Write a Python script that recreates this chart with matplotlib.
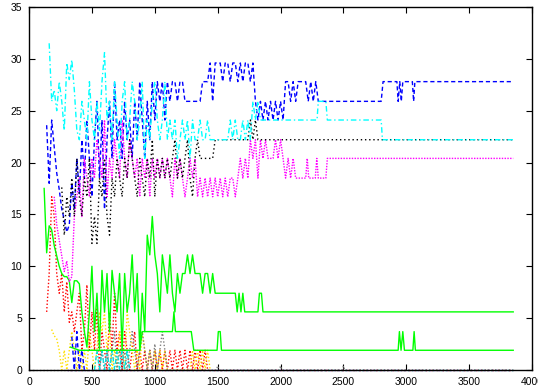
import numpy as np
import matplotlib
matplotlib.use("Agg")
import matplotlib.pyplot as plt

plt.rcParams["font.family"] = ["Liberation Sans", "DejaVu Sans"]
fontsize = 7.5
step = 20  # sampling interval of the raw traces


def on_grid(x0, vals):
    # x positions for a trace sampled every `step` units from x0
    return [x0 + step * i for i in range(len(vals))]


# --- series sampled on the regular grid, plus sparse tails ----------------
blue_x0 = 140
blue_y = [23.6, 18.0, 24.1, 21.5, 19.0, 17.4, 15.5, 14.5, 13.3, 14.0,
          18.0, 15.5, 20.4, 17.0, 22.2, 18.5, 24.1, 20.4, 16.7, 22.2,
          25.9, 18.5, 24.1, 15.5, 22.2, 25.9, 20.4, 27.8, 22.2, 24.1,
          20.4, 25.9, 22.2, 24.1, 20.4, 25.9, 22.2, 27.8, 24.1, 20.4,
          25.9, 22.2, 27.8, 24.1, 27.8, 25.9, 27.8, 24.1, 27.8, 25.9,
          27.8, 27.8, 25.9, 27.8, 27.8, 25.9, 25.9, 25.9, 25.9, 25.9,
          25.9, 25.9, 27.8, 27.8, 27.8, 29.6, 25.9, 29.6, 29.6,
          29.6, 27.8, 29.6, 29.6, 27.8, 29.6, 29.6, 27.8, 29.6, 27.8,
          29.6, 29.6, 27.8, 29.6, 25.9, 24.1, 25.9, 24.1, 25.9, 24.1,
          25.9, 24.1, 25.9, 24.1, 25.9, 24.1, 27.8, 27.8, 25.9, 27.8,
          25.9, 27.8, 27.8, 27.8, 27.8, 25.9, 27.8, 25.9, 27.8, 25.9]
blue_tail_x = [2800, 2815, 2925, 2935, 2948, 2960, 2972, 3048, 3058, 3068, 3850]
blue_tail_y = [25.9, 27.8, 27.8, 25.9, 27.8, 25.9, 27.8, 27.8, 25.9, 27.8, 27.8]

cyan_x0 = 160
cyan_y = [31.5, 25.9, 27.0, 25.0, 27.8, 25.9, 23.1, 29.6, 28.0, 29.9,
          27.0, 23.1, 22.2, 25.9, 24.1, 22.2, 27.8, 24.1, 22.2, 25.9,
          23.1, 27.8, 30.6, 24.1, 25.9, 22.2, 27.8, 24.1, 20.4, 25.9,
          27.8, 22.2, 24.1, 27.8, 25.9, 22.2, 24.1, 27.8, 20.4, 24.1,
          22.2, 25.9, 27.8, 24.1, 22.2, 24.1, 27.8, 22.2, 24.1, 22.2,
          24.1, 20.4, 22.2, 24.1, 22.2, 24.1, 20.4, 24.1, 22.2, 22.2,
          24.1, 22.2, 22.2, 24.1, 22.2, 22.2, 22.2, 22.2, 22.2, 22.2,
          22.2, 22.2, 24.1, 22.2, 24.1, 22.2, 22.2, 24.1, 22.2, 24.1,
          22.2, 25.9, 24.1, 25.9, 24.1, 24.1]
cyan_tail_x = [2290, 2300, 2360, 2372, 2800, 2810, 3850]
cyan_tail_y = [24.1, 25.9, 25.9, 24.1, 24.1, 22.2, 22.2]

black_x0 = 260
black_y = [17.6, 13.0, 16.7, 14.8, 18.5, 14.8, 20.4, 16.7, 14.8, 18.5,
           16.7, 20.4, 12.2, 14.8, 12.2, 18.5, 16.7, 20.4, 14.8, 13.0,
           18.5, 16.7, 20.4, 18.5, 16.7, 20.4, 18.5, 22.2, 20.4, 18.5,
           16.7, 20.4, 18.5, 16.7, 20.4, 18.5, 22.2, 16.7, 20.4, 18.5,
           20.4, 18.5, 20.4, 18.5, 20.4, 22.2, 18.5, 20.4, 18.5, 20.4,
           22.2, 18.5, 16.7, 20.4, 22.2, 20.4, 20.4, 20.4, 20.4, 20.4,
           20.4, 22.2, 22.2, 22.2, 22.2, 22.2, 22.2, 22.2, 22.2, 22.2,
           22.2, 22.2, 22.2, 22.2, 22.2, 24.1, 22.2, 24.1, 22.2]
black_tail_x = [3850]
black_tail_y = [22.2]

magenta_x0 = 200
magenta_y = [16.7, 14.0, 12.5, 11.0, 9.5, 10.5, 8.5, 9.0, 14.8, 16.7,
             18.5, 14.8, 20.4, 18.5, 16.7, 20.4, 18.5, 22.2, 20.4, 18.5,
             24.1, 16.7, 20.4, 18.5, 22.2, 20.4, 18.5, 24.1, 20.4, 18.5,
             22.2, 20.4, 18.5, 20.4, 16.7, 20.4, 18.5, 20.4, 16.7, 20.4,
             18.5, 20.4, 18.5, 20.4, 18.5, 20.4, 18.5, 16.7, 20.4, 18.5,
             20.4, 18.5, 16.7, 18.5, 20.4, 18.5, 20.4, 16.7, 18.5, 16.7,
             18.5, 16.7, 18.5, 16.7, 18.5, 16.7, 18.5, 16.7, 18.5, 16.7,
             18.5, 18.5, 16.7, 18.5, 20.4, 18.5, 20.4, 18.5, 22.2, 20.4,
             22.2, 18.5, 22.2, 20.4, 22.2, 20.4, 20.4, 20.4, 22.2, 20.4,
             22.2, 20.4, 18.5, 20.4, 18.5, 20.4, 18.5]
magenta_tail_x = [2200, 2212, 2224, 2276, 2288, 2300, 2360, 2372, 3850]
magenta_tail_y = [18.5, 20.4, 18.5, 18.5, 20.4, 18.5, 18.5, 20.4, 20.4]

green_x0 = 120
green_y = [17.5, 11.3, 13.9, 13.5, 12.0, 11.0, 10.0, 9.3, 9.0, 9.0,
           8.6, 6.5, 8.6, 8.6, 8.3, 5.6, 3.7, 2.2, 5.6, 10.0,
           3.7, 7.4, 2.0, 9.6, 5.6, 9.3, 3.7, 9.6, 7.4, 5.6,
           9.3, 1.9, 9.3, 5.6, 7.4, 11.1, 5.6, 9.3, 1.9, 7.4,
           3.7, 13.0, 11.1, 14.8, 11.1, 9.3, 5.6, 11.1, 9.3, 7.4,
           11.1, 7.4, 5.6, 9.3, 7.4, 9.3, 9.3, 11.1, 9.3, 11.1,
           9.3, 9.3, 9.3, 7.4, 9.3, 9.3, 7.4, 9.3, 7.4, 7.4]
green_tail_x = [1640, 1655, 1670, 1685, 1700, 1715, 1730, 1820, 1832, 1848, 1860, 3850]
green_tail_y = [7.4, 5.6, 7.4, 5.6, 7.4, 5.6, 5.6, 5.6, 7.4, 7.4, 5.6, 5.6]

green2_x = [330, 400, 880, 900, 1140, 1152, 1164, 1290, 1310, 1495, 1505,
            1520, 1530, 2935, 2945, 2958, 2972, 2985, 3052, 3062, 3072, 3850]
green2_y = [2.2, 1.9, 1.9, 3.7, 3.7, 5.6, 3.7, 3.7, 1.9, 1.9, 3.7,
            3.7, 1.9, 1.9, 3.7, 1.9, 3.7, 1.9, 1.9, 3.7, 1.9, 1.9]

red_x0 = 140
red_y = [5.6, 9.3, 16.7, 14.8, 9.3, 7.4, 9.3, 5.6, 8.5, 4.6,
         5.6, 3.7, 5.6, 7.4, 1.9, 3.7, 8.2, 1.9, 5.6, 1.9,
         6.0, 0.0, 3.7, 1.9, 0.0, 5.6, 1.9, 7.4, 1.9, 3.7,
         0.0, 3.7, 1.9, 0.0, 1.9, 3.7, 0.0, 1.9, 0.0, 1.9,
         0.0, 1.9, 0.0, 1.9, 0.0, 1.9, 0.0, 1.9, 0.0, 1.9,
         0.0, 1.9, 0.0, 1.9, 0.0, 1.9, 0.0, 1.9, 0.0, 1.9,
         0.0, 1.9, 0.0, 1.9, 0.0]

yellow_x0 = 180
yellow_y = [3.9, 3.3, 3.0, 1.9, 0.0, 1.9, 0.0, 1.9, 3.7, 1.9,
            0.0, 1.9, 0.0, 1.9, 0.0, 3.7, 1.9, 0.0, 1.9, 5.6,
            3.7, 5.6, 1.9, 3.7, 0.0, 1.9, 0.0, 3.7, 1.9, 0.0,
            5.6, 3.7, 1.9, 0.0, 1.9, 0.0, 3.7, 1.9, 0.0, 1.9,
            0.0, 1.9, 0.0, 1.9, 0.0, 1.9, 0.0, 0.0, 0.0, 0.0,
            0.0, 0.0, 0.0, 0.0, 0.0, 0.0, 1.9, 0.0, 1.9, 0.0,
            1.9, 0.0, 1.9, 0.0]

gray_x0 = 560
gray_y = [0.0, 1.9, 0.0, 1.9, 0.0, 1.9, 3.7, 0.0, 1.9, 0.0,
          1.9, 0.0, 1.9, 3.7, 1.9, 0.0, 1.9, 3.7, 1.9, 0.0,
          1.9, 0.0, 2.5, 0.0, 1.9, 3.7, 1.9, 0.0, 0.0]
gray_tail_x = [1490, 1500, 1510, 1990, 2000, 2010, 2490, 2500, 2510, 3850]
gray_tail_y = [0.0, 0.4, 0.0, 0.0, 0.4, 0.0, 0.0, 0.4, 0.0, 0.0]

cyan2_x0 = 520
cyan2_y = [0.0, 1.9, 0.0, 1.9, 0.0, 1.9, 0.0, 1.9, 0.0, 1.9,
           0.0, 1.9, 0.0, 1.9, 0.0]

blue2_x0 = 340
blue2_y = [3.2, 0.0, 3.7, 0.0, 1.9, 0.0, 0.0]

# traces that stay at zero the whole run
zero_x = [0, 3850]
zero_y = [0.0, 0.0]

xticks = [0, 500, 1000, 1500, 2000, 2500, 3000, 3500, 4000]
yticks = [0, 5, 10, 15, 20, 25, 30, 35]

fig = plt.figure(figsize=(5.38, 3.87), dpi=100)
ax = fig.add_axes([0.054, 0.044, 0.935, 0.938])

lw = 1.0
kw = dict(linewidth=lw, clip_on=False)

# flat baseline traces
ax.plot(zero_x, zero_y, color="#808080", linestyle=(0, (1, 1.5)), **kw)
ax.plot([300, 3850], zero_y, color="#a020f0", linestyle=(0, (1, 2)), **kw)
ax.plot([300, 3850], zero_y, color="#00c0e0", linestyle=(1, (1, 2)), **kw)
ax.plot([300, 3850], zero_y, color="#ff4040", linestyle=(2, (1, 3)), **kw)

ax.plot(on_grid(red_x0, red_y), red_y, color="#ff0000",
        linestyle=(0, (1, 1.5)), **kw)
ax.plot(on_grid(yellow_x0, yellow_y), yellow_y, color="#ffe000",
        linestyle=(0, (1, 1.5)), **kw)
ax.plot(on_grid(gray_x0, gray_y) + gray_tail_x, gray_y + gray_tail_y,
        color="#808080", linestyle=(0, (1, 1.5)), **kw)
ax.plot(on_grid(cyan2_x0, cyan2_y), cyan2_y, color="#00e0e0",
        linestyle=(0, (3, 1.5, 1, 1.5)), **kw)
ax.plot(on_grid(blue2_x0, blue2_y), blue2_y, color="#0000ff",
        linestyle=(0, (3, 2)), **kw)

ax.plot(on_grid(green_x0, green_y) + green_tail_x, green_y + green_tail_y,
        color="#00ff00", linestyle="-", **kw)
ax.plot(green2_x, green2_y, color="#00ff00", linestyle="-", **kw)
ax.plot(on_grid(blue_x0, blue_y) + blue_tail_x, blue_y + blue_tail_y,
        color="#0000ff", linestyle=(0, (3, 2)), **kw)
ax.plot(on_grid(magenta_x0, magenta_y) + magenta_tail_x,
        magenta_y + magenta_tail_y, color="#ff00ff",
        linestyle=(0, (1, 1)), **kw)
ax.plot(on_grid(black_x0, black_y) + black_tail_x, black_y + black_tail_y,
        color="#000000", linestyle=(0, (1, 2)), **kw)
ax.plot(on_grid(cyan_x0, cyan_y) + cyan_tail_x, cyan_y + cyan_tail_y,
        color="#00ffff", linestyle=(0, (4, 2, 1, 2)), **kw)

ax.set_xlim(0, 4000)
ax.set_ylim(0, 35)
ax.set_xticks(xticks)
ax.set_yticks(yticks)
ax.tick_params(direction="in", top=True, right=True, length=4, width=0.8,
               labelsize=fontsize, pad=5)
for sp in ax.spines.values():
    sp.set_linewidth(1.0)

fig.savefig("out.png", dpi=100)
